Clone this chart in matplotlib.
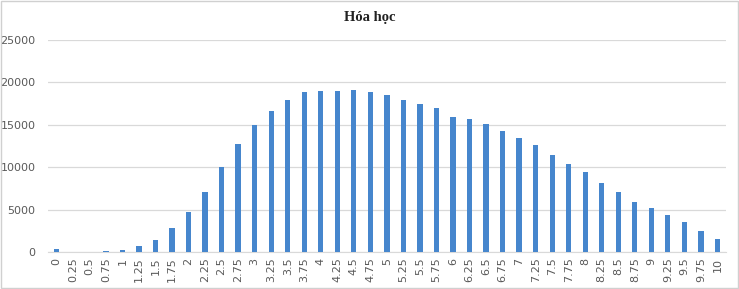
import matplotlib.pyplot as plt
import numpy as np

# score categories 0 .. 10 step 0.25
scores = ["0", "0.25", "0.5", "0.75", "1", "1.25", "1.5", "1.75", "2", "2.25",
          "2.5", "2.75", "3", "3.25", "3.5", "3.75", "4", "4.25", "4.5", "4.75",
          "5", "5.25", "5.5", "5.75", "6", "6.25", "6.5", "6.75", "7", "7.25",
          "7.5", "7.75", "8", "8.25", "8.5", "8.75", "9", "9.25", "9.5", "9.75", "10"]
counts = [350, 0, 0, 80, 280, 670, 1450, 2790, 4710, 7100,
          10050, 12750, 14910, 16600, 17900, 18880, 19030, 18960, 19070, 18840,
          18450, 17860, 17430, 16950, 15900, 15620, 15110, 14290, 13420, 12640,
          11380, 10400, 9460, 8120, 7030, 5930, 5180, 4320, 3490, 2510, 1490]
yticks = [0, 5000, 10000, 15000, 20000, 25000]

fig = plt.figure(figsize=(7.39, 2.89), dpi=100)
ax = fig.add_axes([0.065, 0.128, 0.917, 0.734])

x = np.arange(len(scores))
ax.bar(x, counts, width=0.32, color="#4686cd", zorder=3)

ax.set_xlim(-0.5, len(scores) - 0.5)
ax.set_ylim(0, 25000)
ax.set_yticks(yticks)
ax.set_yticklabels([str(v) for v in yticks], fontsize=8, color="#595959")
ax.set_xticks(x)
ax.set_xticklabels(scores, rotation=90, fontsize=8, color="#595959")
ax.tick_params(axis="x", length=0, pad=4)
ax.tick_params(axis="y", length=0, pad=9)
ax.yaxis.grid(True, color="#d9d9d9", linewidth=0.9, zorder=0)

for side in ["top", "right", "left"]:
    ax.spines[side].set_visible(False)
ax.spines["bottom"].set_color("#d9d9d9")

fig.text(0.5, 0.94, "Hóa học", ha="center", va="center", fontsize=10.5,
         fontweight="bold", family="Liberation Serif", color="#222222")

# thin border around the picture
fig.patches.append(plt.Rectangle((0.002, 0.004), 0.996, 0.992, transform=fig.transFigure,
                                 fill=False, edgecolor="#d0d0d0", linewidth=1))

fig.savefig("out.png", dpi=100)
